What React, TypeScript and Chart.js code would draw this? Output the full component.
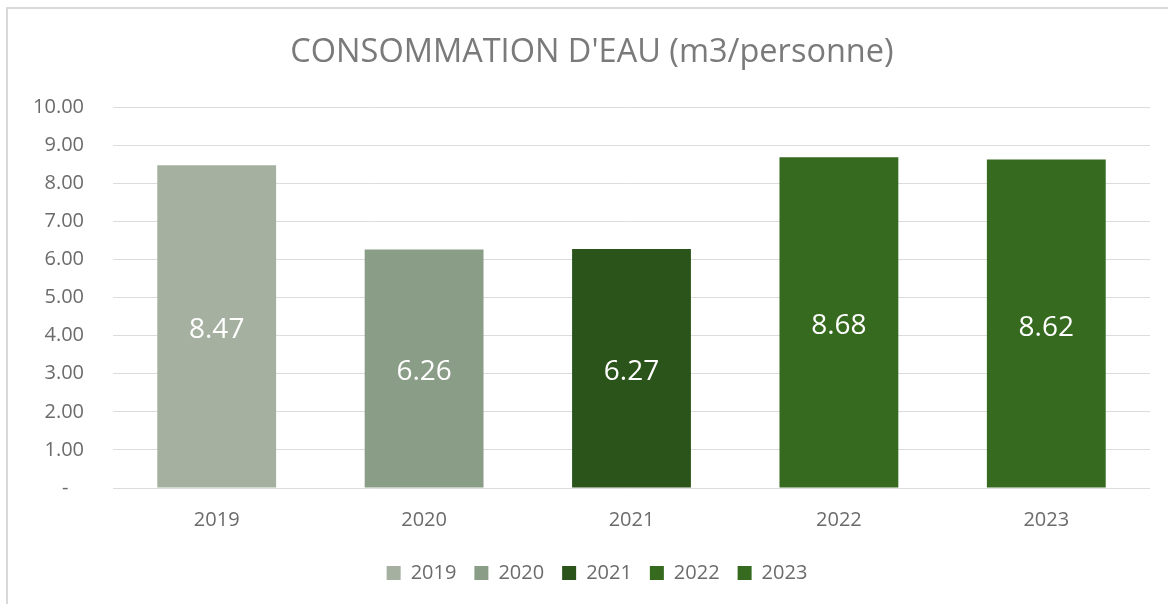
import { useEffect, useRef } from 'react';
import { Chart, registerables } from 'chart.js';

Chart.register(...registerables);

const TITLE = "CONSOMMATION D'EAU (m3/personne)";
const categories = ['2019', '2020', '2021', '2022', '2023'];
const values = [8.47, 6.26, 6.27, 8.68, 8.62];
const barColors = ['#A5B0A0', '#8A9D86', '#2A5419', '#356A1F', '#356A1F'];
const yMin = 0;
const yMax = 10;
const yStep = 1;

const FONT = "'Open Sans', 'Noto Sans', sans-serif";
const TEXT = '#6b6b6b';

const frame = {
  id: 'frame',
  beforeDraw(chart: any) {
    const { ctx, width, height } = chart;
    ctx.save();
    ctx.fillStyle = '#ffffff';
    ctx.fillRect(0, 0, width, height);
    ctx.strokeStyle = '#d9d9d9';
    ctx.lineWidth = 2;
    ctx.beginPath();
    ctx.moveTo(7, height);
    ctx.lineTo(7, 8);
    ctx.lineTo(width, 8);
    ctx.stroke();
    // chart title, centred over the full (cropped) chart frame
    ctx.fillStyle = '#7a7a7a';
    ctx.font = `32.5px ${FONT}`;
    ctx.textAlign = 'center';
    ctx.textBaseline = 'middle';
    ctx.fillText(TITLE, 592, 53);
    ctx.restore();
  },
  afterLayout(chart: any) {
    const lg = chart.legend;
    if (lg) {
      lg.left += 22;
      lg.right += 22;
    }
  },
};

const dataLabels = {
  id: 'dataLabels',
  afterDatasetsDraw(chart: any) {
    const { ctx } = chart;
    ctx.save();
    ctx.fillStyle = '#ffffff';
    ctx.font = `28px ${FONT}`;
    ctx.textAlign = 'center';
    ctx.textBaseline = 'middle';
    chart.data.datasets.forEach((ds: any, di: number) => {
      const meta = chart.getDatasetMeta(di);
      meta.data.forEach((el: any, i: number) => {
        const v = ds.data[i];
        if (v === null || v === undefined) return;
        ctx.fillText(v.toFixed(2), el.x, (el.y + el.base) / 2 + 4);
      });
    });
    ctx.restore();
  },
};

export default function App() {
  const ref = useRef<HTMLCanvasElement | null>(null);

  useEffect(() => {
    document.body.style.margin = '0';
    const canvas = ref.current;
    if (!canvas) return;
    const datasets = categories.map((c, i) => ({
      label: c,
      data: categories.map((_, j) => (j === i ? values[i] : null)),
      backgroundColor: barColors[i],
      borderWidth: 0,
      barPercentage: 0.573,
      categoryPercentage: 1,
    }));
    const chart = new Chart(canvas, {
      type: 'bar',
      data: { labels: categories, datasets },
      plugins: [frame, dataLabels],
      options: {
        animation: false,
        responsive: false,
        maintainAspectRatio: false,
        layout: { padding: { left: 0, right: 18, top: 107, bottom: 11 } },
        plugins: {
          tooltip: { enabled: false },
          title: { display: false },
          legend: {
            position: 'bottom',
            labels: {
              boxWidth: 14,
              boxHeight: 14,
              padding: 18,
              color: TEXT,
              font: { family: FONT, size: 20 },
            },
          },
        },
        scales: {
          x: {
            stacked: true,
            grid: { display: false, drawTicks: false },
            border: { display: false },
            ticks: { color: TEXT, font: { family: FONT, size: 20 }, padding: 20 },
            afterFit: (s: any) => {
              s.height = 57;
            },
          },
          y: {
            stacked: true,
            min: yMin,
            max: yMax,
            grid: { color: '#dcdcdc', lineWidth: 1, drawTicks: false },
            border: { display: false },
            ticks: {
              stepSize: yStep,
              color: TEXT,
              font: { family: FONT, size: 20 },
              padding: 29,
              callback: (v: any) => (Number(v) === 0 ? '-   ' : Number(v).toFixed(2)),
            },
            afterFit: (s: any) => {
              s.width = 113;
            },
          },
        },
      },
    } as any);
    return () => chart.destroy();
  }, []);

  return (
    <div style={{ width: 1168, height: 604, overflow: 'hidden' }}>
      <canvas ref={ref} width={1168} height={604} style={{ display: 'block' }} />
    </div>
  );
}
